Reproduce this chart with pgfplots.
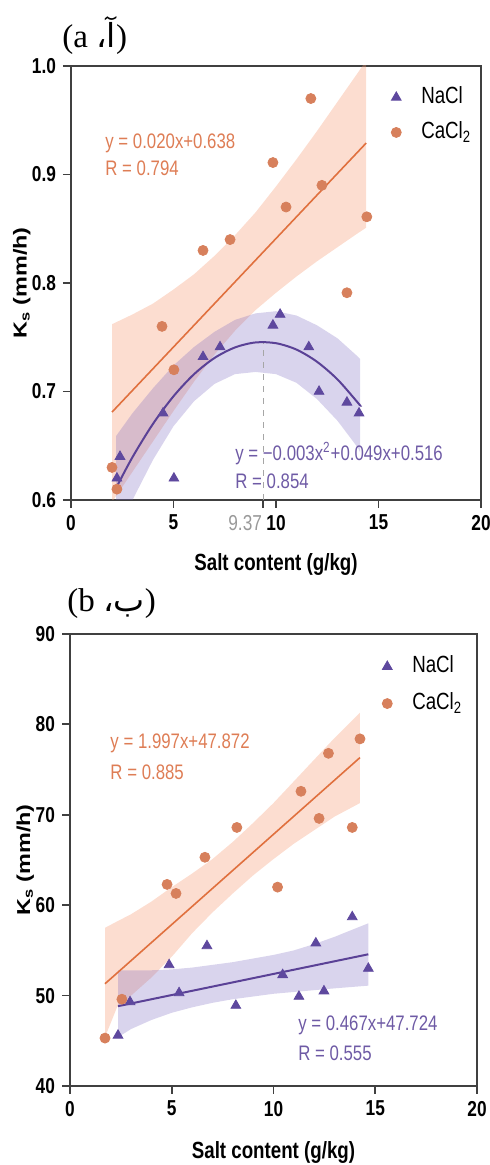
\documentclass[border=0pt]{standalone}
\usepackage{fontspec}
\setmainfont{Liberation Sans}[FakeStretch=0.8]
\newfontfamily\widesans{Liberation Sans}
\newfontfamily\serifx{Liberation Serif}
\newfontfamily\arabicfont[Script=Arabic]{DejaVu Sans}
\TeXXeTstate=1
\usepackage{graphicx}
\usepackage{pgfplots}
\pgfplotsset{compat=1.18}
\definecolor{orangeM}{RGB}{215,128,92}
\definecolor{orangeL}{RGB}{224,112,62}
\definecolor{orangeT}{RGB}{222,125,85}
\definecolor{orangeB}{RGB}{245,150,110}
\definecolor{purpleM}{RGB}{94,72,158}
\definecolor{purpleL}{RGB}{90,65,150}
\definecolor{purpleT}{RGB}{110,90,165}
\definecolor{purpleB}{RGB}{120,100,190}
\pgfplotsset{panel/.style={
  scale only axis, xmin=0, xmax=20, xtick={0,5,10,15,20},
  tick align=outside, tick pos=left, major tick length=4pt,
  axis line style={draw=black!75, line width=1pt},
  tick style={draw=black!75, line width=0.9pt},
  tick label style={font=\bfseries\fontsize{10.8}{12}\selectfont},
  /pgf/number format/assume math mode=true,
  xlabel={Salt content (g/kg)},
  xlabel style={font=\bfseries\fontsize{11.7}{13}\selectfont, anchor=center},
  ylabel={\scalebox{1}[0.8]{\widesans\bfseries\fontsize{11.7}{13}\selectfont K\textsubscript{s} (mm/h)}},
  ylabel style={anchor=center},
  legend cell align=left,
  legend image code/.code={\path[draw=none,fill=none] (0pt,0pt) rectangle (15.5pt,0pt); \draw[##1] plot coordinates {(5pt,0pt)};},
  legend style={anchor=north west, draw=none, fill=none, inner sep=0pt,
    font=\fontsize{11.7}{13}\selectfont,
    nodes={inner sep=2pt, text height=8.5pt, text depth=2.5pt}},
}}
\begin{document}
\begin{tikzpicture}
\useasboundingbox (0,0) rectangle (244.5pt,582.5pt);
% ---------------- panel (a)
\begin{axis}[panel, at={(35.5pt,332.5pt)}, anchor=south west,
  width=205pt, height=217pt,
  ymin=0.6, ymax=1.0, ytick={0.6,0.7,0.8,0.9,1.0},
  yticklabels={0.6,0.7,0.8,0.9,1.0},
  extra x ticks={9.37}, extra x tick labels={9.37},
  extra x tick style={tick label style={text=black!40, font=\mdseries\fontsize{10.8}{12}\selectfont, anchor=north east, xshift=3pt}},
  xlabel style={at={(axis description cs:0.5,-0.149)}},
  ylabel style={at={(axis description cs:-0.12,0.5)}},
  legend style={at={(axis description cs:0.768,0.963)}, row sep=2.5pt}]
\addplot[forget plot, fill=orangeB, fill opacity=0.32, draw=none] coordinates {
 (2,0.762)(3,0.771)(4,0.781)(5,0.794)(6,0.808)(7,0.825)(8,0.844)(9,0.865)(10,0.889)(11,0.914)(12,0.940)(13,0.967)(14,0.994)(14.4,1.005)
 (14.4,0.851)(14,0.846)(13,0.833)(12,0.820)(11,0.806)(10,0.791)(9,0.775)(8,0.756)(7,0.734)(6,0.709)(5,0.682)(4,0.654)(3,0.626)(2,0.598)} -- cycle;
\addplot[forget plot, fill=purpleB, fill opacity=0.28, draw=none] coordinates {
 (2.2,0.659)(3,0.680)(4,0.703)(5,0.724)(6,0.741)(7,0.755)(8,0.766)(9,0.772)(10,0.774)(11,0.770)(12,0.761)(13,0.749)(14,0.732)(14.1,0.730)
 (14.1,0.644)(14,0.648)(13,0.673)(12,0.693)(11,0.708)(10,0.716)(9,0.718)(8,0.716)(7,0.707)(6,0.691)(5,0.668)(4,0.637)(3,0.600)(2.2,0.563)} -- cycle;
\addplot[forget plot, black!35, dashed, line width=0.5pt] coordinates {(9.37,0.6)(9.37,0.7455)};
\addplot[forget plot, orangeL, line width=0.8pt] coordinates {(2.0,0.681)(14.4,0.929)};
\addplot[forget plot, purpleL, line width=1pt, smooth] coordinates {
 (2.2,0.6111)(3,0.6395)(4,0.6702)(5,0.6956)(6,0.7159)(7,0.7309)(8,0.7406)(9,0.7452)(10,0.7445)(11,0.7386)(12,0.7274)(13,0.7111)(14,0.6895)(14.1,0.6870)};
\addplot[only marks, mark=triangle*, mark size=2.8pt, color=purpleM] coordinates {
 (2.24,0.620)(2.39,0.640)(4.49,0.680)(5.02,0.620)(6.44,0.732)(7.27,0.741)(9.85,0.761)(10.2,0.771)(11.6,0.741)(12.1,0.700)(13.46,0.690)(14.05,0.680)};
\addlegendentry{NaCl}
\addplot[only marks, mark=*, mark size=2.5pt, color=orangeM] coordinates {
 (2.0,0.630)(2.24,0.610)(4.44,0.760)(5.02,0.720)(6.44,0.830)(7.76,0.840)(9.85,0.911)(10.49,0.870)(11.7,0.970)(12.24,0.890)(13.46,0.791)(14.43,0.861)};
\addlegendentry{CaCl\textsubscript{2}}
\node[anchor=west, inner sep=0, text=orangeT, font=\fontsize{10.5}{12}\selectfont] at (axis cs:1.66,0.929) {y = 0.020x+0.638};
\node[anchor=west, inner sep=0, text=orangeT, font=\fontsize{10.5}{12}\selectfont] at (axis cs:1.66,0.906) {R = 0.794};
\node[anchor=west, inner sep=0, text=purpleT, font=\fontsize{10.5}{12}\selectfont] at (axis cs:8.0,0.643) {y = −0.003x\textsuperscript{2}+0.049x+0.516};
\node[anchor=west, inner sep=0, text=purpleT, font=\fontsize{10.5}{12}\selectfont] at (axis cs:8.0,0.6175) {R = 0.854};
\end{axis}
% ---------------- panel (b)
\begin{axis}[panel, at={(35pt,39.5pt)}, anchor=south west,
  width=203.5pt, height=226pt,
  ymin=40, ymax=90, ytick={40,50,60,70,80,90},
  xlabel style={at={(axis description cs:0.5,-0.148)}},
  ylabel style={at={(axis description cs:-0.11,0.5)}},
  legend style={at={(axis description cs:0.754,0.962)}, row sep=3.5pt}]
\addplot[forget plot, fill=orangeB, fill opacity=0.32, draw=none] coordinates {
 (1.72,57.5)(2.31,58.2)(3,59.0)(4,60.4)(5,62.0)(6,63.5)(7,65.1)(8,67.0)(9,69.1)(10,71.3)(11,73.7)(12,76.1)(13,78.5)(14.25,81.3)
 (14.25,71.3)(13,69.8)(12,68.3)(11,66.8)(10,65.1)(9,63.3)(8,61.3)(7,59.2)(6,56.9)(5,54.3)(4,52.0)(3,50.0)(2.31,48.7)(1.72,45.4)} -- cycle;
\addplot[forget plot, fill=purpleB, fill opacity=0.28, draw=none] coordinates {
 (2.36,52.8)(3,52.8)(4,52.8)(5,52.9)(6,53.1)(7,53.4)(8,53.7)(9,54.1)(10,54.5)(11,55.0)(12,55.7)(13,56.5)(14.66,58.0)
 (14.66,51.1)(13,50.8)(12,50.6)(11,50.4)(10,50.2)(9,49.9)(8,49.6)(7,49.2)(6,48.7)(5,48.1)(4,47.3)(3,46.3)(2.36,45.4)} -- cycle;
\addplot[forget plot, orangeL, line width=0.8pt] coordinates {(1.72,51.31)(14.25,76.33)};
\addplot[forget plot, purpleL, line width=1pt] coordinates {(2.36,48.83)(14.66,54.57)};
\addplot[only marks, mark=triangle*, mark size=2.8pt, color=purpleM] coordinates {
 (2.36,45.6)(2.95,49.3)(4.87,53.4)(5.36,50.3)(6.73,55.5)(8.15,48.9)(10.45,52.3)(11.25,49.9)(12.08,55.8)(12.48,50.5)(13.87,58.7)(14.66,53.0)};
\addlegendentry{NaCl}
\addplot[only marks, mark=*, mark size=2.5pt, color=orangeM] coordinates {
 (1.72,45.3)(2.55,49.6)(4.77,62.3)(5.21,61.3)(6.63,65.3)(8.2,68.6)(10.2,62.0)(11.35,72.6)(12.24,69.6)(12.7,76.8)(13.87,68.6)(14.25,78.4)};
\addlegendentry{CaCl\textsubscript{2}}
\node[anchor=west, inner sep=0, text=orangeT, font=\fontsize{10.5}{12}\selectfont] at (axis cs:1.97,77.94) {y = 1.997x+47.872};
\node[anchor=west, inner sep=0, text=orangeT, font=\fontsize{10.5}{12}\selectfont] at (axis cs:1.97,74.73) {R = 0.885};
\node[anchor=west, inner sep=0, text=purpleT, font=\fontsize{10.5}{12}\selectfont] at (axis cs:11.2,46.75) {y = 0.467x+47.724};
\node[anchor=west, inner sep=0, text=purpleT, font=\fontsize{10.5}{12}\selectfont] at (axis cs:11.2,43.65) {R = 0.555};
\end{axis}
% ---------------- titles
\node[anchor=west, inner sep=0] at (31pt,564.5pt) {\fontsize{16.5}{18}\selectfont\serifx (a {\arabicfont\beginR آ،\endR})};
\node[anchor=west, inner sep=0] at (33.5pt,280.5pt) {\fontsize{16.5}{18}\selectfont\serifx (b {\arabicfont\beginR ب،\endR})};
\end{tikzpicture}
\end{document}
